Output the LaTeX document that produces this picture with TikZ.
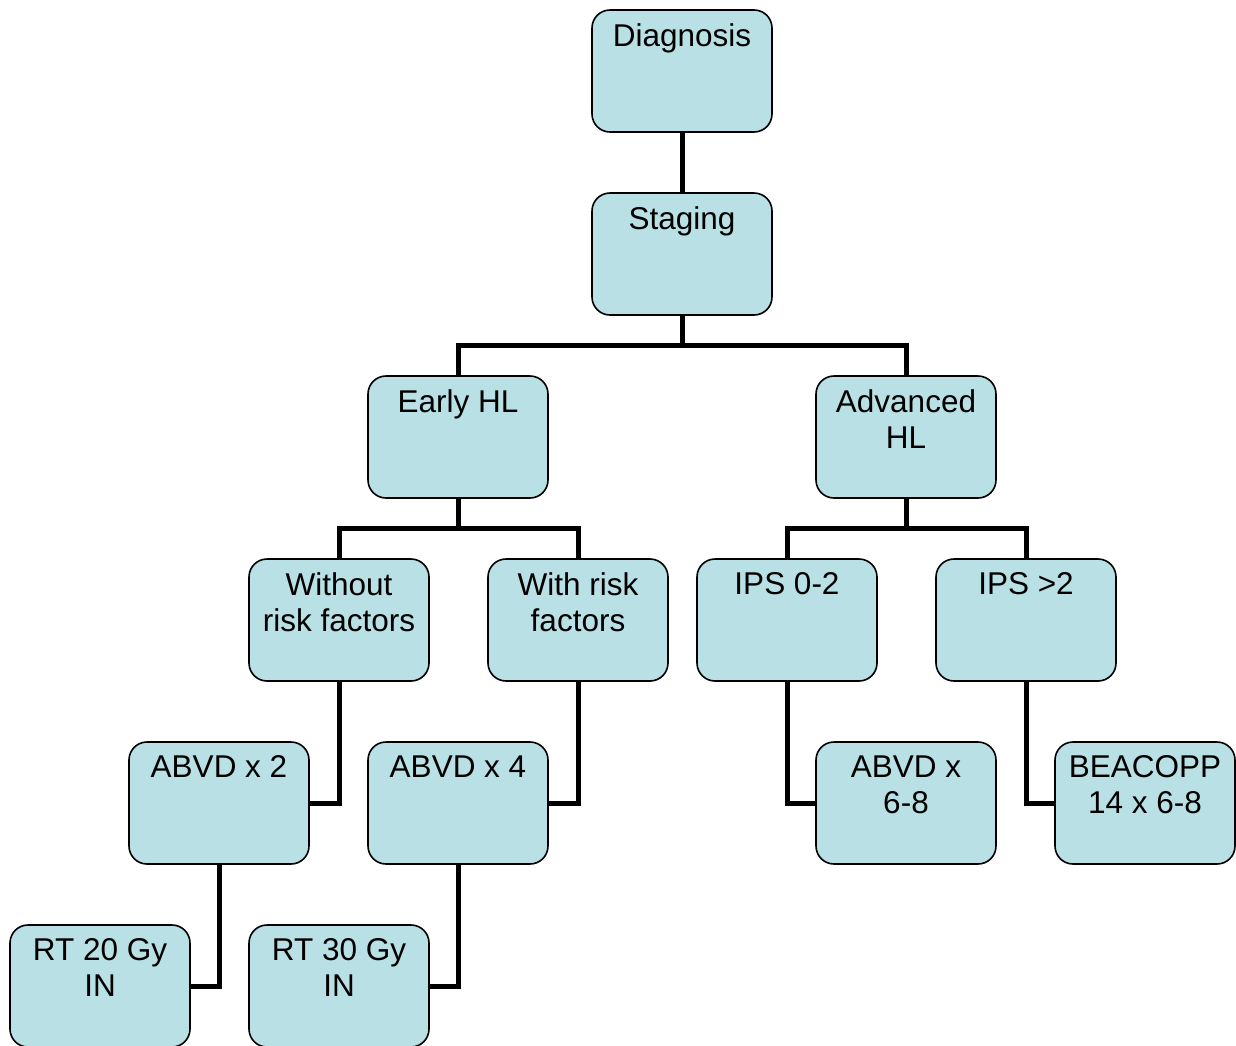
\documentclass[tikz,border=0pt]{standalone}
\usepackage{fontspec}
\setmainfont{Liberation Sans}
\usetikzlibrary{positioning}
\definecolor{boxfill}{RGB}{185,224,228}
\begin{document}
\begin{tikzpicture}[x=1pt,y=-1pt]
	\useasboundingbox(0,0)rectangle(1236,1045);
	\tikzset{box/.style={draw=black,line width=1.6pt,fill=boxfill,rounded corners=18pt,minimum width=180pt,minimum height=122pt,inner sep=0pt},
		lbl/.style={anchor=north,inner sep=0pt,align=center,font=\fontsize{31.5}{36}\selectfont},
		link/.style={draw=black,line width=5pt}}
	% boxes
	\node[box](diag)at(682,71){};
	\node[box](stag)at(682,254){};
	\node[box](early)at(458,437){};
	\node[box](adv)at(906,437){};
	\node[box](norisk)at(339,620){};
	\node[box](risk)at(578,620){};
	\node[box](ipslow)at(787,620){};
	\node[box](ipshigh)at(1026,620){};
	\node[box](abvdtwo)at(219,803){};
	\node[box](abvdfour)at(458,803){};
	\node[box](abvdsix)at(906,803){};
	\node[box](beacopp)at(1145,803){};
	\node[box](rttwenty)at(100,986){};
	\node[box](rtthirty)at(339,986){};
	% texts
	\node[lbl](diagT)at([yshift=-14.5pt]diag.north){Diagnosis};
	\node[lbl](stagT)at([yshift=-14.5pt]stag.north){Staging};
	\node[lbl](earlyT)at([yshift=-14.5pt]early.north){Early HL};
	\node[lbl](advT)at([yshift=-14.5pt]adv.north){Advanced\\HL};
	\node[lbl](noriskT)at([yshift=-14.5pt]norisk.north){Without\\risk factors};
	\node[lbl](riskT)at([yshift=-14.5pt]risk.north){With risk\\factors};
	\node[lbl](ipslowT)at([yshift=-14.5pt]ipslow.north){IPS 0-2};
	\node[lbl](ipshighT)at([yshift=-14.5pt]ipshigh.north){IPS >2};
	\node[lbl](abvdtwoT)at([yshift=-14.5pt]abvdtwo.north){ABVD x 2};
	\node[lbl](abvdfourT)at([yshift=-14.5pt]abvdfour.north){ABVD x 4};
	\node[lbl](abvdsixT)at([yshift=-14.5pt]abvdsix.north){ABVD x\\6-8};
	\node[lbl](beacoppT)at([yshift=-14.5pt]beacopp.north){BEACOPP\\14 x 6-8};
	\node[lbl](rttwentyT)at([yshift=-14.5pt]rttwenty.north){RT 20 Gy\\IN};
	\node[lbl](rtthirtyT)at([yshift=-14.5pt]rtthirty.north){RT 30 Gy\\IN};
	% links
	\path[link](diag)--(stag);
	\path[link](stag.south)--++(0,30)-|(early.north);
	\path[link](stag.south)--++(0,30)-|(adv.north);
	\path[link](early.south)--++(0,30)-|(norisk.north);
	\path[link](early.south)--++(0,30)-|(risk.north);
	\path[link](adv.south)--++(0,30)-|(ipslow.north);
	\path[link](adv.south)--++(0,30)-|(ipshigh.north);
	\path[link](norisk.south)|-(abvdtwo.east);
	\path[link](risk.south)|-(abvdfour.east);
	\path[link](ipslow.south)|-(abvdsix.west);
	\path[link](ipshigh.south)|-(beacopp.west);
	\path[link](abvdtwo.south)|-(rttwenty.east);
	\path[link](abvdfour.south)|-(rtthirty.east);
\end{tikzpicture}
\end{document}
